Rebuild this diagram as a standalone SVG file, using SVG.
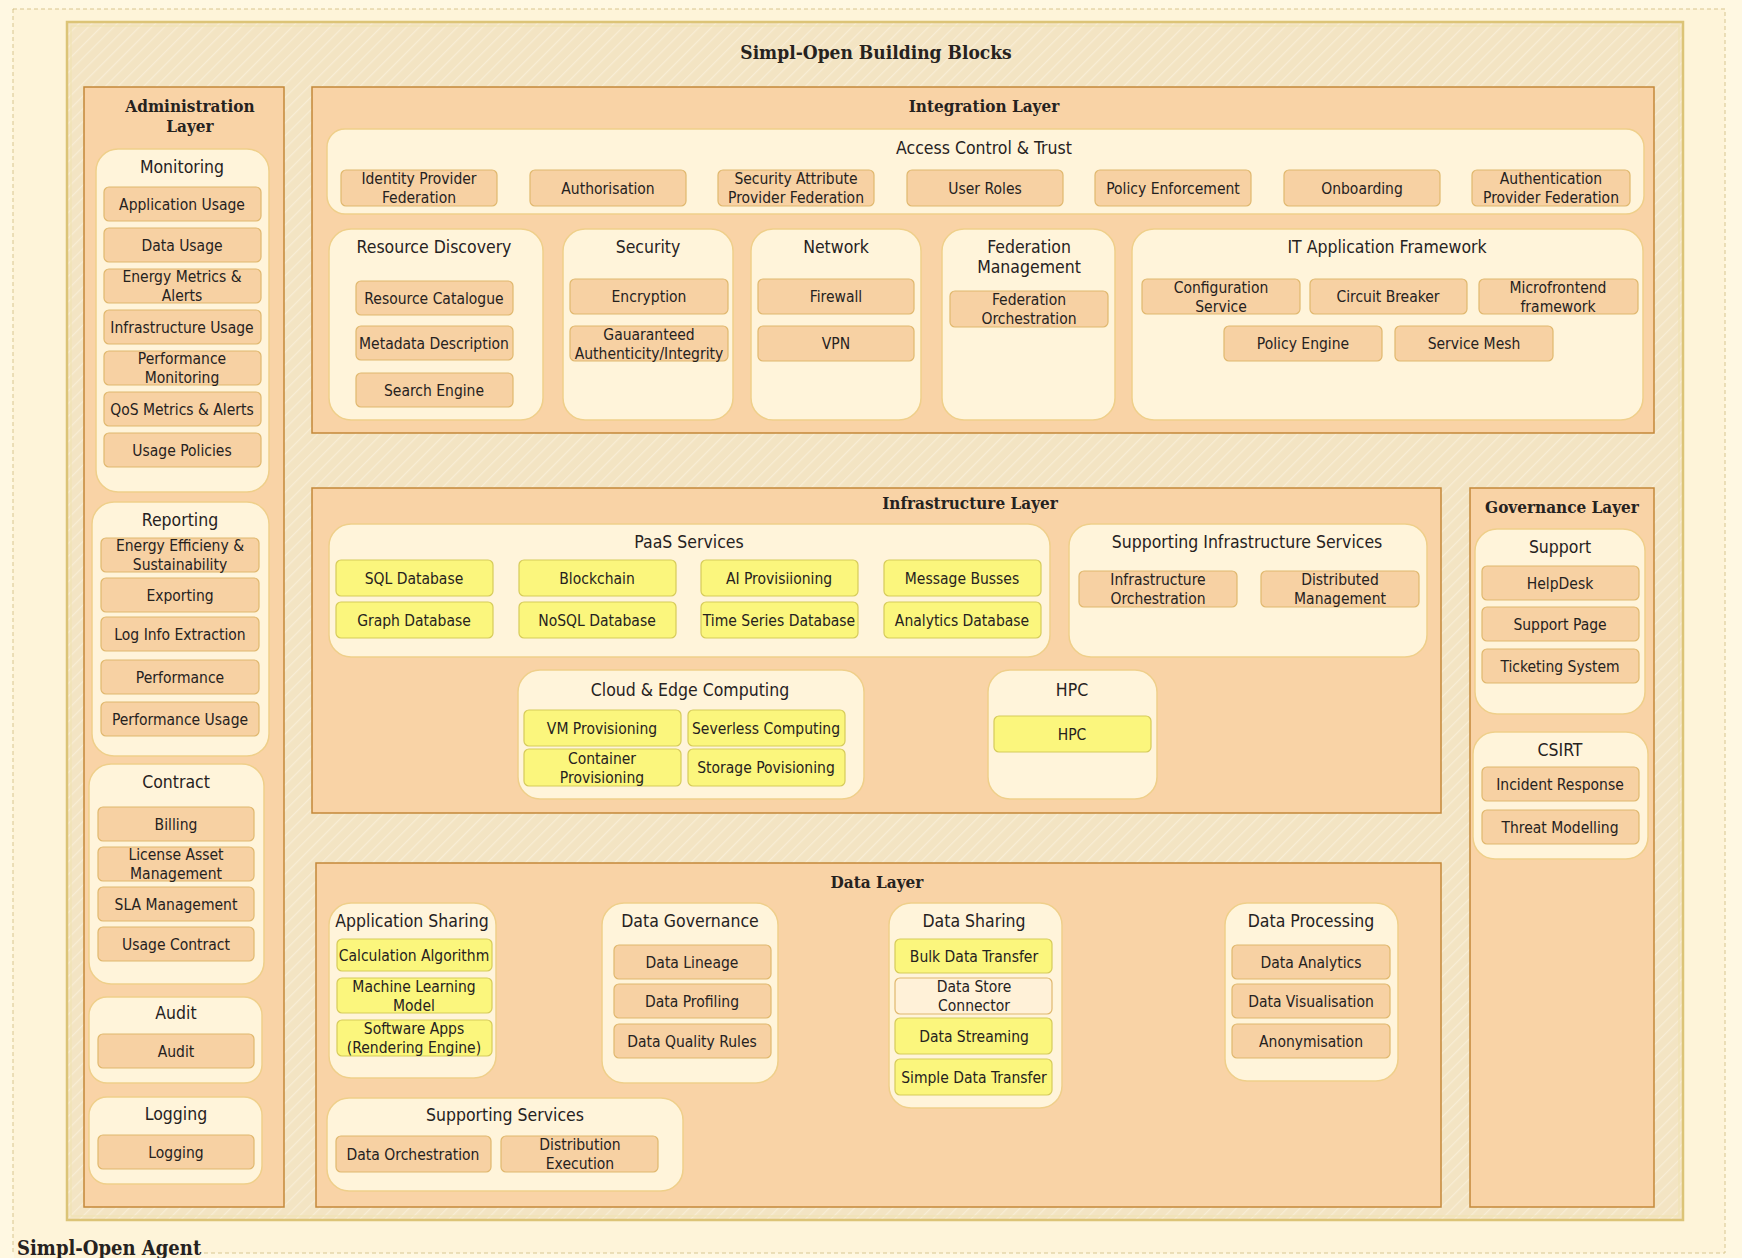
<svg xmlns="http://www.w3.org/2000/svg" width="1742" height="1258" viewBox="0 0 1742 1258">
<defs>
<pattern id="hatch" width="9" height="9" patternUnits="userSpaceOnUse" patternTransform="rotate(45)">
<rect width="9" height="9" fill="#F3E4C3"/>
<line x1="0" y1="0" x2="0" y2="9" stroke="#F8EDD5" stroke-width="2.5"/>
</pattern>
<style>
.layer{fill:#F9D3A6;stroke:#C4883A;stroke-width:1.5}
.grp{fill:#FFF4DA;stroke:#EFCF8A;stroke-width:1.5}
.it{fill:#F7D1A3;stroke:#E0B86E;stroke-width:1.2}
.yl{fill:#FBF67D;stroke:#D6CB5A;stroke-width:1.2}
.cr{fill:#FFF1D8;stroke:#E0B86E;stroke-width:1.2}
text{font-family:"DejaVu Sans Condensed","DejaVu Sans","Liberation Sans",sans-serif;fill:#26221E;text-anchor:middle}
.t{font-size:15.5px}
.g{font-size:17.5px}
.h{font-family:"DejaVu Serif Condensed","DejaVu Serif","Liberation Serif",serif;font-weight:bold;font-size:17px;fill:#26221E}
.big{font-family:"DejaVu Serif Condensed","DejaVu Serif","Liberation Serif",serif;font-weight:bold;font-size:19px;fill:#26221E}
</style>
</defs>
<rect width="1742" height="1258" fill="#FFF8E2"/>
<rect x="13" y="9" width="1712" height="1244" fill="#FEF4D9" stroke="#D8C690" stroke-width="1" stroke-dasharray="4 3"/>
<rect x="14" y="1234" width="186" height="24" fill="#FEF4D9"/>
<text class="big" x="17" y="1255" style="text-anchor:start;font-size:20px">Simpl-Open Agent</text>

<g id="building-blocks">
<rect x="67" y="22" width="1616" height="1198" fill="url(#hatch)" stroke="#DCC477" stroke-width="2.5"/>
<rect x="71" y="26" width="1608" height="1190" fill="none" stroke="#F1E3B2" stroke-width="1.2"/>
<text class="big" x="876" y="59">Simpl-Open Building Blocks</text>
</g>

<!-- Administration layer -->
<g id="administration-layer">
<rect class="layer" x="84" y="87" width="200" height="1120"/>
<text class="h" x="190" y="112">Administration</text>
<text class="h" x="190" y="132">Layer</text>
</g>
<g id="monitoring">
<rect class="grp" x="96" y="149" width="173" height="343" rx="22"/>
<text class="g" x="182" y="173">Monitoring</text>
</g>
<g id="application-usage"><rect class="it" x="104" y="187" width="157" height="34" rx="5"/><text class="t" x="182" y="209.5">Application Usage</text></g>
<g id="data-usage"><rect class="it" x="104" y="228" width="157" height="34" rx="5"/><text class="t" x="182" y="250.5">Data Usage</text></g>
<g id="energy-metrics"><rect class="it" x="104" y="269" width="157" height="34" rx="5"/><text class="t" x="182" y="282">Energy Metrics &amp;</text><text class="t" x="182" y="301">Alerts</text></g>
<g id="infrastructure-usage"><rect class="it" x="104" y="310" width="157" height="34" rx="5"/><text class="t" x="182" y="332.5">Infrastructure Usage</text></g>
<g id="performance-monitoring"><rect class="it" x="104" y="351" width="157" height="34" rx="5"/><text class="t" x="182" y="364">Performance</text><text class="t" x="182" y="383">Monitoring</text></g>
<g id="qos-metrics"><rect class="it" x="104" y="392" width="157" height="34" rx="5"/><text class="t" x="182" y="414.5">QoS Metrics &amp; Alerts</text></g>
<g id="usage-policies"><rect class="it" x="104" y="433" width="157" height="34" rx="5"/><text class="t" x="182" y="455.5">Usage Policies</text></g>

<g id="reporting">
<rect class="grp" x="92" y="502" width="177" height="254" rx="22"/>
<text class="g" x="180" y="526">Reporting</text>
</g>
<g id="energy-efficiency"><rect class="it" x="101" y="538" width="158" height="34" rx="5"/><text class="t" x="180" y="551">Energy Efficieny &amp;</text><text class="t" x="180" y="570">Sustainability</text></g>
<g id="exporting"><rect class="it" x="101" y="578" width="158" height="34" rx="5"/><text class="t" x="180" y="600.5">Exporting</text></g>
<g id="log-info-extraction"><rect class="it" x="101" y="617" width="158" height="34" rx="5"/><text class="t" x="180" y="639.5">Log Info Extraction</text></g>
<g id="performance"><rect class="it" x="101" y="660" width="158" height="34" rx="5"/><text class="t" x="180" y="682.5">Performance</text></g>
<g id="performance-usage"><rect class="it" x="101" y="702" width="158" height="34" rx="5"/><text class="t" x="180" y="724.5">Performance Usage</text></g>

<g id="contract">
<rect class="grp" x="89" y="764" width="175" height="220" rx="22"/>
<text class="g" x="176" y="788">Contract</text>
</g>
<g id="billing"><rect class="it" x="98" y="807" width="156" height="34" rx="5"/><text class="t" x="176" y="829.5">Billing</text></g>
<g id="license-asset"><rect class="it" x="98" y="847" width="156" height="34" rx="5"/><text class="t" x="176" y="860">License Asset</text><text class="t" x="176" y="879">Management</text></g>
<g id="sla-management"><rect class="it" x="98" y="887" width="156" height="34" rx="5"/><text class="t" x="176" y="909.5">SLA Management</text></g>
<g id="usage-contract"><rect class="it" x="98" y="927" width="156" height="34" rx="5"/><text class="t" x="176" y="949.5">Usage Contract</text></g>

<g id="audit-group">
<rect class="grp" x="89" y="997" width="173" height="86" rx="18"/>
<text class="g" x="176" y="1019">Audit</text>
</g>
<g id="audit"><rect class="it" x="98" y="1034" width="156" height="34" rx="5"/><text class="t" x="176" y="1056.5">Audit</text></g>

<g id="logging-group">
<rect class="grp" x="89" y="1097" width="173" height="87" rx="18"/>
<text class="g" x="176" y="1120">Logging</text>
</g>
<g id="logging"><rect class="it" x="98" y="1135" width="156" height="34" rx="5"/><text class="t" x="176" y="1157.5">Logging</text></g>

<!-- Integration layer -->
<g id="integration-layer">
<rect class="layer" x="312" y="87" width="1342" height="346"/>
<text class="h" x="984" y="112">Integration Layer</text>
</g>
<g id="access-control">
<rect class="grp" x="327" y="129" width="1317" height="85" rx="18"/>
<text class="g" x="984" y="154">Access Control &amp; Trust</text>
</g>
<g id="identity-provider"><rect class="it" x="341" y="170" width="156" height="36" rx="5"/><text class="t" x="419" y="184">Identity Provider</text><text class="t" x="419" y="203">Federation</text></g>
<g id="authorisation"><rect class="it" x="530" y="170" width="156" height="36" rx="5"/><text class="t" x="608" y="193.5">Authorisation</text></g>
<g id="security-attribute"><rect class="it" x="718" y="170" width="156" height="36" rx="5"/><text class="t" x="796" y="184">Security Attribute</text><text class="t" x="796" y="203">Provider Federation</text></g>
<g id="user-roles"><rect class="it" x="907" y="170" width="156" height="36" rx="5"/><text class="t" x="985" y="193.5">User Roles</text></g>
<g id="policy-enforcement"><rect class="it" x="1095" y="170" width="156" height="36" rx="5"/><text class="t" x="1173" y="193.5">Policy Enforcement</text></g>
<g id="onboarding"><rect class="it" x="1284" y="170" width="156" height="36" rx="5"/><text class="t" x="1362" y="193.5">Onboarding</text></g>
<g id="authentication-provider"><rect class="it" x="1472" y="170" width="158" height="36" rx="5"/><text class="t" x="1551" y="184">Authentication</text><text class="t" x="1551" y="203">Provider Federation</text></g>

<g id="resource-discovery">
<rect class="grp" x="329" y="229" width="214" height="191" rx="22"/>
<text class="g" x="434" y="253">Resource Discovery</text>
</g>
<g id="resource-catalogue"><rect class="it" x="356" y="281" width="157" height="34" rx="5"/><text class="t" x="434" y="303.5">Resource Catalogue</text></g>
<g id="metadata-description"><rect class="it" x="356" y="326" width="157" height="34" rx="5"/><text class="t" x="434" y="348.5">Metadata Description</text></g>
<g id="search-engine"><rect class="it" x="356" y="373" width="157" height="34" rx="5"/><text class="t" x="434" y="395.5">Search Engine</text></g>

<g id="security">
<rect class="grp" x="563" y="229" width="170" height="191" rx="22"/>
<text class="g" x="648" y="253">Security</text>
</g>
<g id="encryption"><rect class="it" x="570" y="279" width="158" height="35" rx="5"/><text class="t" x="649" y="302">Encryption</text></g>
<g id="guaranteed-authenticity"><rect class="it" x="570" y="326" width="158" height="35" rx="5"/><text class="t" x="649" y="339.5">Gauaranteed</text><text class="t" x="649" y="358.5">Authenticity/Integrity</text></g>

<g id="network">
<rect class="grp" x="751" y="229" width="170" height="191" rx="22"/>
<text class="g" x="836" y="253">Network</text>
</g>
<g id="firewall"><rect class="it" x="758" y="279" width="156" height="35" rx="5"/><text class="t" x="836" y="302">Firewall</text></g>
<g id="vpn"><rect class="it" x="758" y="326" width="156" height="35" rx="5"/><text class="t" x="836" y="349">VPN</text></g>

<g id="federation-management">
<rect class="grp" x="942" y="229" width="173" height="191" rx="22"/>
<text class="g" x="1029" y="253">Federation</text>
<text class="g" x="1029" y="273">Management</text>
</g>
<g id="federation-orchestration"><rect class="it" x="950" y="291" width="158" height="36" rx="5"/><text class="t" x="1029" y="305">Federation</text><text class="t" x="1029" y="324">Orchestration</text></g>

<g id="it-application-framework">
<rect class="grp" x="1132" y="229" width="511" height="191" rx="22"/>
<text class="g" x="1387" y="253">IT Application Framework</text>
</g>
<g id="configuration-service"><rect class="it" x="1142" y="279" width="158" height="35" rx="5"/><text class="t" x="1221" y="292.5">Configuration</text><text class="t" x="1221" y="311.5">Service</text></g>
<g id="circuit-breaker"><rect class="it" x="1310" y="279" width="157" height="35" rx="5"/><text class="t" x="1388" y="302">Circuit Breaker</text></g>
<g id="microfrontend"><rect class="it" x="1479" y="279" width="159" height="35" rx="5"/><text class="t" x="1558" y="292.5">Microfrontend</text><text class="t" x="1558" y="311.5">framework</text></g>
<g id="policy-engine"><rect class="it" x="1224" y="326" width="158" height="35" rx="5"/><text class="t" x="1303" y="349">Policy Engine</text></g>
<g id="service-mesh"><rect class="it" x="1395" y="326" width="158" height="35" rx="5"/><text class="t" x="1474" y="349">Service Mesh</text></g>

<!-- Infrastructure layer -->
<g id="infrastructure-layer">
<rect class="layer" x="312" y="488" width="1129" height="325"/>
<text class="h" x="970" y="509">Infrastructure Layer</text>
</g>
<g id="paas-services">
<rect class="grp" x="329" y="524" width="721" height="133" rx="22"/>
<text class="g" x="689" y="548">PaaS Services</text>
</g>
<g id="sql-database"><rect class="yl" x="336" y="560" width="157" height="36" rx="5"/><text class="t" x="414" y="583.5">SQL Database</text></g>
<g id="blockchain"><rect class="yl" x="519" y="560" width="157" height="36" rx="5"/><text class="t" x="597" y="583.5">Blockchain</text></g>
<g id="ai-provisioning"><rect class="yl" x="701" y="560" width="157" height="36" rx="5"/><text class="t" x="779" y="583.5">AI Provisiioning</text></g>
<g id="message-busses"><rect class="yl" x="884" y="560" width="157" height="36" rx="5"/><text class="t" x="962" y="583.5">Message Busses</text></g>
<g id="graph-database"><rect class="yl" x="336" y="602" width="157" height="36" rx="5"/><text class="t" x="414" y="625.5">Graph Database</text></g>
<g id="nosql-database"><rect class="yl" x="519" y="602" width="157" height="36" rx="5"/><text class="t" x="597" y="625.5">NoSQL Database</text></g>
<g id="time-series-database"><rect class="yl" x="701" y="602" width="157" height="36" rx="5"/><text class="t" x="779" y="625.5">Time Series Database</text></g>
<g id="analytics-database"><rect class="yl" x="884" y="602" width="157" height="36" rx="5"/><text class="t" x="962" y="625.5">Analytics Database</text></g>

<g id="supporting-infrastructure">
<rect class="grp" x="1069" y="524" width="358" height="133" rx="22"/>
<text class="g" x="1247" y="548">Supporting Infrastructure Services</text>
</g>
<g id="infrastructure-orchestration"><rect class="it" x="1079" y="571" width="158" height="36" rx="5"/><text class="t" x="1158" y="585">Infrastructure</text><text class="t" x="1158" y="604">Orchestration</text></g>
<g id="distributed-management"><rect class="it" x="1261" y="571" width="158" height="36" rx="5"/><text class="t" x="1340" y="585">Distributed</text><text class="t" x="1340" y="604">Management</text></g>

<g id="cloud-edge">
<rect class="grp" x="518" y="670" width="346" height="129" rx="22"/>
<text class="g" x="690" y="696">Cloud &amp; Edge Computing</text>
</g>
<g id="vm-provisioning"><rect class="yl" x="524" y="710" width="157" height="36" rx="5"/><text class="t" x="602" y="733.5">VM Provisioning</text></g>
<g id="severless-computing"><rect class="yl" x="688" y="710" width="157" height="36" rx="5"/><text class="t" x="766" y="733.5">Severless Computing</text></g>
<g id="container-provisioning"><rect class="yl" x="524" y="749" width="157" height="37" rx="5"/><text class="t" x="602" y="763.5">Container</text><text class="t" x="602" y="782.5">Provisioning</text></g>
<g id="storage-provisioning"><rect class="yl" x="688" y="749" width="157" height="37" rx="5"/><text class="t" x="766" y="773">Storage Povisioning</text></g>

<g id="hpc-group">
<rect class="grp" x="988" y="670" width="169" height="129" rx="22"/>
<text class="g" x="1072" y="696">HPC</text>
</g>
<g id="hpc"><rect class="yl" x="994" y="716" width="157" height="36" rx="5"/><text class="t" x="1072" y="739.5">HPC</text></g>

<!-- Governance layer -->
<g id="governance-layer">
<rect class="layer" x="1470" y="488" width="184" height="719"/>
<text class="h" x="1562" y="513">Governance Layer</text>
</g>
<g id="support">
<rect class="grp" x="1475" y="529" width="170" height="185" rx="22"/>
<text class="g" x="1560" y="553">Support</text>
</g>
<g id="helpdesk"><rect class="it" x="1482" y="566" width="157" height="34" rx="5"/><text class="t" x="1560" y="588.5">HelpDesk</text></g>
<g id="support-page"><rect class="it" x="1482" y="607" width="157" height="34" rx="5"/><text class="t" x="1560" y="629.5">Support Page</text></g>
<g id="ticketing-system"><rect class="it" x="1482" y="649" width="157" height="34" rx="5"/><text class="t" x="1560" y="671.5">Ticketing System</text></g>

<g id="csirt">
<rect class="grp" x="1473" y="732" width="175" height="127" rx="22"/>
<text class="g" x="1560" y="756">CSIRT</text>
</g>
<g id="incident-response"><rect class="it" x="1482" y="767" width="157" height="34" rx="5"/><text class="t" x="1560" y="789.5">Incident Response</text></g>
<g id="threat-modelling"><rect class="it" x="1482" y="810" width="157" height="34" rx="5"/><text class="t" x="1560" y="832.5">Threat Modelling</text></g>

<!-- Data layer -->
<g id="data-layer">
<rect class="layer" x="316" y="863" width="1125" height="344"/>
<text class="h" x="877" y="888">Data Layer</text>
</g>
<g id="application-sharing">
<rect class="grp" x="329" y="903" width="167" height="175" rx="22"/>
<text class="g" x="412" y="927">Application Sharing</text>
</g>
<g id="calculation-algorithm"><rect class="yl" x="337" y="939" width="155" height="32" rx="5"/><text class="t" x="414" y="960.5">Calculation Algorithm</text></g>
<g id="machine-learning-model"><rect class="yl" x="337" y="978" width="155" height="35" rx="5"/><text class="t" x="414" y="991.5">Machine Learning</text><text class="t" x="414" y="1010.5">Model</text></g>
<g id="software-apps"><rect class="yl" x="337" y="1020" width="155" height="36" rx="5"/><text class="t" x="414" y="1034">Software Apps</text><text class="t" x="414" y="1053">(Rendering Engine)</text></g>

<g id="data-governance">
<rect class="grp" x="602" y="903" width="176" height="180" rx="22"/>
<text class="g" x="690" y="927">Data Governance</text>
</g>
<g id="data-lineage"><rect class="it" x="614" y="945" width="157" height="34" rx="5"/><text class="t" x="692" y="967.5">Data Lineage</text></g>
<g id="data-profiling"><rect class="it" x="614" y="984" width="157" height="34" rx="5"/><text class="t" x="692" y="1006.5">Data Profiling</text></g>
<g id="data-quality-rules"><rect class="it" x="614" y="1024" width="157" height="34" rx="5"/><text class="t" x="692" y="1046.5">Data Quality Rules</text></g>

<g id="data-sharing">
<rect class="grp" x="889" y="903" width="173" height="205" rx="22"/>
<text class="g" x="974" y="927">Data Sharing</text>
</g>
<g id="bulk-data-transfer"><rect class="yl" x="895" y="939" width="157" height="34" rx="5"/><text class="t" x="974" y="961.5">Bulk Data Transfer</text></g>
<g id="data-store-connector"><rect class="cr" x="895" y="978" width="157" height="36" rx="5"/><text class="t" x="974" y="992">Data Store</text><text class="t" x="974" y="1011">Connector</text></g>
<g id="data-streaming"><rect class="yl" x="895" y="1018" width="157" height="36" rx="5"/><text class="t" x="974" y="1041.5">Data Streaming</text></g>
<g id="simple-data-transfer"><rect class="yl" x="895" y="1059" width="157" height="36" rx="5"/><text class="t" x="974" y="1082.5">Simple Data Transfer</text></g>

<g id="data-processing">
<rect class="grp" x="1225" y="903" width="173" height="178" rx="22"/>
<text class="g" x="1311" y="927">Data Processing</text>
</g>
<g id="data-analytics"><rect class="it" x="1232" y="945" width="158" height="34" rx="5"/><text class="t" x="1311" y="967.5">Data Analytics</text></g>
<g id="data-visualisation"><rect class="it" x="1232" y="984" width="158" height="34" rx="5"/><text class="t" x="1311" y="1006.5">Data Visualisation</text></g>
<g id="anonymisation"><rect class="it" x="1232" y="1024" width="158" height="34" rx="5"/><text class="t" x="1311" y="1046.5">Anonymisation</text></g>

<g id="supporting-services">
<rect class="grp" x="327" y="1098" width="356" height="93" rx="22"/>
<text class="g" x="505" y="1121">Supporting Services</text>
</g>
<g id="data-orchestration"><rect class="it" x="336" y="1136" width="155" height="36" rx="5"/><text class="t" x="413" y="1159.5">Data Orchestration</text></g>
<g id="distribution-execution"><rect class="it" x="501" y="1136" width="157" height="36" rx="5"/><text class="t" x="580" y="1150">Distribution</text><text class="t" x="580" y="1169">Execution</text></g>

<g id="connectors"></g>
</svg>
